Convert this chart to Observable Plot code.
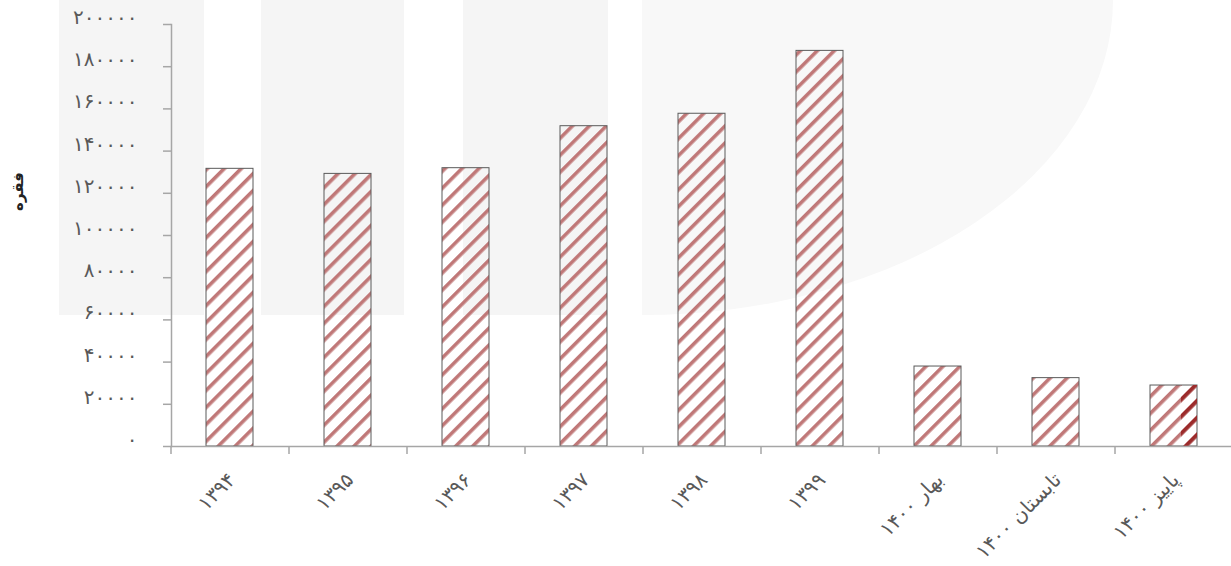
<!DOCTYPE html>
<html>
<head>
<meta charset="utf-8">
<script src="https://cdn.jsdelivr.net/npm/d3@7"></script>
<script src="https://cdn.jsdelivr.net/npm/@observablehq/plot@0.6"></script>
<style>
  body { margin: 0; background: #fff; }
  #wrap { position: relative; width: 1231px; height: 566px; overflow: hidden; }
  .wm1 { position: absolute; left: 59px; top: 0; width: 583px; height: 315px;
    background: linear-gradient(to right, #f5f5f5 0 145px, #fff 145px 202px, #f5f5f5 202px 345px, #fff 345px 404px, #f5f5f5 404px 549px, #fff 549px 583px); }
  .wm2 { position: absolute; left: 642px; top: 0; width: 471px; height: 315px;
    background: #f8f8f8; border-bottom-right-radius: 471px 315px; }
  #chart { position: absolute; left: 0; top: 0; }
  #chart svg { background: transparent; }
</style>
</head>
<body>
<div id="wrap">
  <div class="wm1"></div>
  <div class="wm2"></div>
  <div id="chart"></div>
</div>
<script>
const categories = ["۱۳۹۴", "۱۳۹۵", "۱۳۹۶", "۱۳۹۷", "۱۳۹۸", "۱۳۹۹", "بهار ۱۴۰۰", "تابستان ۱۴۰۰", "پاییز ۱۴۰۰"];
const values = [131600, 129200, 131900, 151800, 157700, 187500, 37900, 32400, 28900];
const yTicks = [0, 20000, 40000, 60000, 80000, 100000, 120000, 140000, 160000, 180000, 200000];
const yTitle = "فقره";

const faDigits = "۰۱۲۳۴۵۶۷۸۹";
const toFa = d => String(d).replace(/\d/g, c => faDigits[c]);

const data = categories.map((c, i) => ({cat: c, value: values[i]}));
const x0 = 171, x1 = 1233;
const bw = (x1 - x0) / categories.length;
const font = "'DejaVu Sans', sans-serif";
const axisColor = "#a6a6a6";

const chart = Plot.plot({
  width: 1231,
  height: 566,
  marginTop: 24,
  marginBottom: 120,
  marginLeft: 171,
  marginRight: 0,
  style: {fontFamily: font, background: "transparent"},
  x: {domain: categories, range: [x0, x1], paddingInner: 0.6, paddingOuter: 0.3, align: 0.5},
  y: {domain: [0, 200000]},
  marks: [
    Plot.barY(data, {x: "cat", y: "value", fill: "url(#stripes)", stroke: "#5a5a5a", strokeWidth: 1}),
    Plot.barY(data.slice(-1), {x: "cat", y: "value", fill: "url(#stripesDark)", insetLeft: 31}),
    Plot.frame({anchor: "left", stroke: axisColor, strokeWidth: 1.5}),
    Plot.frame({anchor: "bottom", stroke: axisColor, strokeWidth: 1.5}),
    Plot.axisY({ticks: yTicks, tickSize: 8, tickFormat: () => "", stroke: axisColor, strokeWidth: 1.5, label: null}),
    Plot.axisY({ticks: yTicks, tickSize: 0, tickPadding: 34, tickFormat: toFa, fill: "#595959", fontSize: 20,
      dy: -7, label: null, className: "ylab"}),
    Plot.axisX({tickSize: 8, tickFormat: () => "", dx: -bw / 2, stroke: axisColor, strokeWidth: 1.5, label: null}),
    Plot.axisX({tickSize: 0, tickPadding: 30, tickRotate: -45, textAnchor: "end", fontSize: 20, fill: "#595959",
      dx: 2, label: null, className: "xlab"}),
    Plot.text([yTitle], {frameAnchor: "left", textAnchor: "middle", dx: -153, dy: -44, rotate: -90,
      fontSize: 15, fontWeight: "bold", fill: "#222"})
  ]
});

const svg = d3.select(chart);
const defs = svg.insert("defs", ":first-child");
function stripes(id, color) {
  const p = defs.append("pattern").attr("id", id).attr("patternUnits", "userSpaceOnUse")
    .attr("width", 12).attr("height", 12).attr("patternTransform", "rotate(45)");
  p.append("rect").attr("x", 0).attr("y", 0).attr("width", 3.6).attr("height", 12).attr("fill", color);
}
stripes("stripes", "#c07878");
stripes("stripesDark", "#9c2b2b");

// widen digit spacing like the original's font
svg.selectAll(".ylab text").style("letter-spacing", "6px");
svg.selectAll(".xlab text").each(function() {
  if (/^[۰-۹]+$/.test(this.textContent)) d3.select(this).style("letter-spacing", "5px");
});

document.getElementById("chart").appendChild(chart);
</script>
</body>
</html>
